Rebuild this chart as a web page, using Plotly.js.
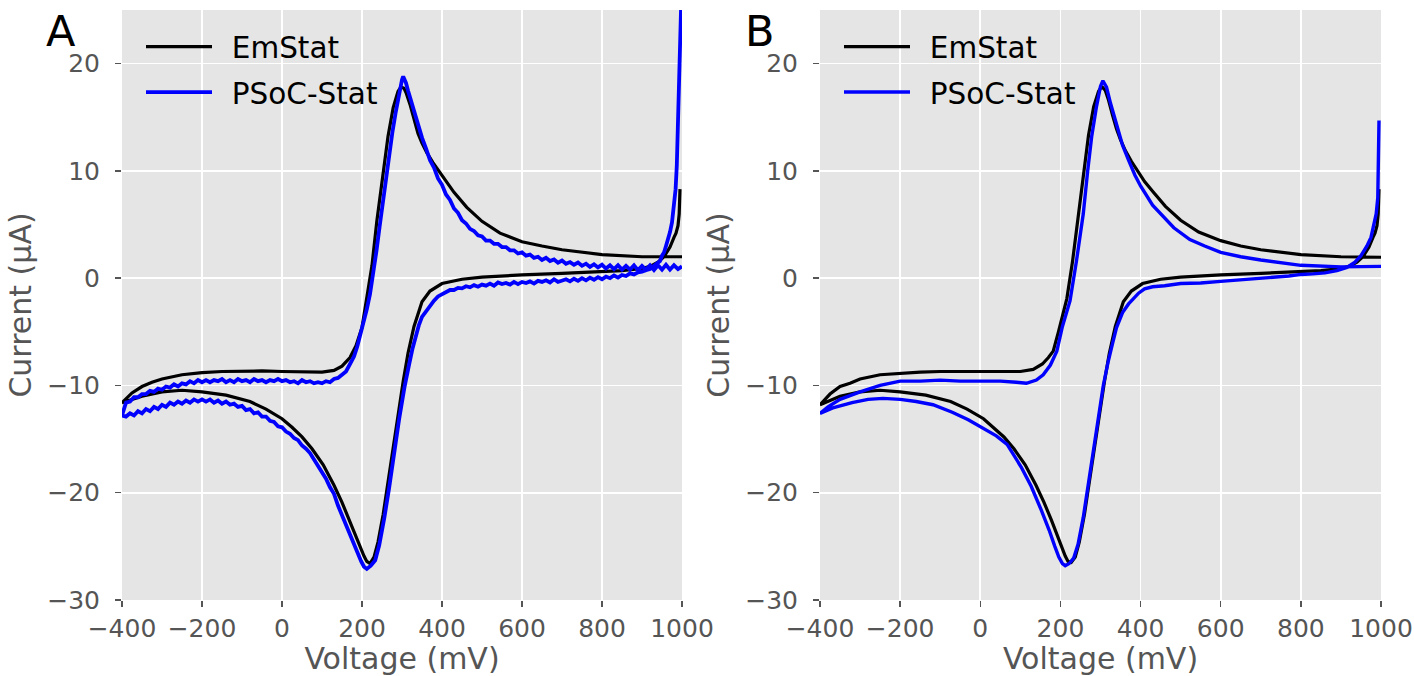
<!DOCTYPE html>
<html>
<head>
<meta charset="utf-8">
<script src="https://cdn.plot.ly/plotly-3.0.1.min.js"></script>
<style>html,body{margin:0;padding:0;background:#fff;}#chart{width:1414px;height:676px;}</style>
</head>
<body>
<div id="chart"></div>
<script>
// Each loop: start spike at the 1000 mV vertex -> reverse sweep to -400 mV -> forward sweep back to 1000 mV
// ---------- EmStat, panel A
const emstatAV = [995,993,990,985,980,970,955,940,920,900,850,800,700,600,500,450,400,370,350,330,315,303,290,278,265,253,240,230,220,212,205,195,185,170,150,130,103,75,50,25,0,-40,-80,-140,-200,-250,-300,-350,-400,
  -375,-350,-325,-300,-250,-200,-150,-100,-50,0,50,100,130,150,170,185,200,212,225,237,253,265,278,285,290,295,299,305,310,320,330,340,350,362,377,392,410,430,462,500,545,600,650,700,800,900,1000];
const emstatAI = [8.3,6.0,4.9,4.2,3.8,2.9,2.0,1.5,1.1,0.9,0.7,0.6,0.45,0.3,0.1,-0.1,-0.5,-1.2,-2.2,-4.5,-7.0,-9.6,-12.8,-16.0,-19.2,-22.0,-24.6,-26.0,-26.6,-26.4,-25.9,-25.0,-24.0,-22.6,-20.9,-19.3,-17.4,-15.9,-14.8,-13.9,-13.1,-12.2,-11.5,-10.9,-10.6,-10.45,-10.6,-11.0,-11.6,
  -10.7,-10.1,-9.7,-9.4,-9.0,-8.8,-8.7,-8.65,-8.65,-8.7,-8.75,-8.75,-8.6,-8.2,-7.4,-6.3,-4.6,-2.0,1.2,5.3,9.9,13.2,15.9,16.8,17.4,17.7,17.8,17.7,17.3,16.2,14.8,13.5,12.6,11.7,10.8,10.0,9.0,8.0,6.6,5.3,4.2,3.4,3.0,2.65,2.2,2.0,2.0];

// ---------- EmStat, panel B
const emstatBV = [995,993,990,985,980,970,955,940,920,900,850,800,700,600,500,450,405,377,357,337,322,310,297,285,272,260,247,237,227,219,212,203,193,178,159,139,112,84,59,33,8,-33,-74,-136,-200,-250,-300,-350,-400,
  -375,-350,-325,-300,-250,-200,-150,-100,-50,0,50,100,132,155,170,182,195,205,216,230,244,259,270,283,290,295,300,305,312,320,330,340,350,362,377,392,410,430,462,500,545,600,650,700,800,900,1000];
const emstatBI = [8.3,6.0,4.9,4.2,3.8,2.9,2.0,1.5,1.1,0.9,0.7,0.6,0.45,0.3,0.1,-0.1,-0.5,-1.2,-2.2,-4.5,-7.0,-9.6,-12.8,-16.0,-19.2,-22.0,-24.6,-26.0,-26.5,-26.4,-25.9,-25.0,-24.0,-22.6,-20.9,-19.3,-17.4,-15.9,-14.8,-13.9,-13.1,-12.2,-11.5,-10.9,-10.6,-10.45,-10.6,-11.0,-11.8,
  -10.8,-10.1,-9.8,-9.4,-9.0,-8.85,-8.75,-8.7,-8.7,-8.7,-8.7,-8.7,-8.5,-8.0,-7.4,-6.8,-5.0,-3.4,-1.9,1.5,5.6,10.0,13.3,16.0,16.9,17.4,17.7,17.8,17.5,16.6,15.2,13.9,12.9,11.9,10.9,10.0,9.0,8.1,6.7,5.4,4.3,3.5,3.0,2.65,2.2,2.0,1.95];

// ---------- PSoC-Stat, panel A (noisy recording)
const psocAV = [999,996,993,990,987,984,980,975,970,965,960,955,950,945,940,
  930,920,910,900,890,880,870,860,850,840,830,820,810,800,790,780,770,760,750,740,730,720,710,700,690,680,670,660,650,640,630,620,610,600,590,580,570,560,550,540,530,520,510,500,490,480,470,460,450,440,430,420,410,400,390,380,
  370,360,350,342,334,326,318,306,293,281,268,256,243,233,222,212,205,198,190,180,
  170,160,150,140,130,120,110,100,90,80,70,60,50,40,30,20,10,0,-10,-20,-30,-40,-50,-60,-70,-80,-90,-100,-110,-120,-130,-140,-150,-160,-170,-180,-190,-200,-210,-220,-230,-240,-250,-260,-270,-280,-290,-300,-310,-320,-330,-340,-350,-360,-370,-380,-390,-400,
  -390,-380,-370,-360,-350,-340,-330,-320,-310,-300,-290,-280,-270,-260,-250,-240,-230,-220,-210,-200,-190,-180,-170,-160,-150,-140,-130,-120,-110,-100,-90,-80,-70,-60,-50,-40,-30,-20,-10,0,10,20,30,40,50,60,70,80,90,100,110,120,130,140,150,160,170,
  180,188,196,204,212,220,228,236,244,252,260,268,276,284,290,296,300,303,306,310,315,320,325,330,340,350,360,370,380,390,400,410,420,430,440,450,460,470,480,490,500,510,520,530,540,550,560,570,580,590,600,610,620,630,640,650,660,670,680,690,700,710,720,730,740,750,760,770,780,790,800,810,820,830,840,850,860,870,880,890,900,910,920,930,940,950,960,970,980,990,1000];
const psocAI = [27,22,17.5,13.5,10.5,8.3,6.6,5.2,4.3,3.5,3.0,2.4,2.1,1.6,1.45,
  1.05,0.85,0.75,0.6,0.55,0.35,0.45,0.2,0.3,0.05,0.25,0.0,0.15,-0.1,0.1,-0.15,0.05,-0.2,0.0,-0.25,-0.05,-0.3,-0.1,-0.2,-0.35,-0.1,-0.4,-0.2,-0.35,-0.25,-0.5,-0.3,-0.45,-0.35,-0.55,-0.35,-0.6,-0.45,-0.55,-0.4,-0.7,-0.5,-0.7,-0.6,-0.8,-0.65,-0.85,-0.75,-0.95,-0.9,-1.1,-1.1,-1.3,-1.45,-1.7,-2.1,
  -2.6,-3.0,-3.6,-4.4,-5.4,-6.6,-8.0,-10.2,-13.1,-16.3,-19.5,-22.3,-24.9,-26.3,-26.8,-27.1,-26.9,-26.4,-25.7,-24.8,
  -23.9,-23.1,-22.0,-21.2,-20.1,-19.5,-18.7,-18.1,-17.4,-16.9,-16.3,-15.9,-15.6,-15.1,-14.9,-14.5,-14.3,-13.9,-13.8,-13.4,-13.3,-12.9,-12.9,-12.5,-12.6,-12.2,-12.3,-11.9,-12.0,-11.7,-11.8,-11.5,-11.7,-11.4,-11.6,-11.3,-11.5,-11.3,-11.5,-11.3,-11.6,-11.4,-11.7,-11.5,-11.8,-11.6,-12.0,-11.8,-12.2,-12.0,-12.4,-12.2,-12.6,-12.4,-12.8,-12.6,-12.9,-12.8,
  -11.6,-11.5,-11.1,-11.1,-10.8,-10.8,-10.5,-10.6,-10.3,-10.4,-10.1,-10.2,-9.9,-10.1,-9.8,-9.9,-9.6,-9.8,-9.5,-9.7,-9.5,-9.7,-9.5,-9.6,-9.4,-9.7,-9.5,-9.7,-9.4,-9.6,-9.5,-9.7,-9.4,-9.6,-9.5,-9.7,-9.5,-9.6,-9.4,-9.6,-9.5,-9.7,-9.6,-9.8,-9.5,-9.7,-9.6,-9.8,-9.7,-9.8,-9.6,-9.7,-9.4,-9.3,-9.0,-8.7,-8.0,
  -7.3,-6.4,-5.3,-4.1,-2.9,-1.5,0.3,2.5,4.8,7.1,9.3,11.5,13.6,15.4,16.7,17.9,18.5,18.8,18.6,18.2,17.5,16.9,16.2,15.6,14.2,13.1,12.1,11.0,10.3,9.3,8.7,7.8,7.3,6.5,6.1,5.4,5.1,4.6,4.4,4.0,3.9,3.5,3.5,3.2,3.2,2.9,2.9,2.6,2.6,2.3,2.4,2.1,2.2,1.9,2.0,1.7,1.9,1.6,1.75,1.45,1.65,1.35,1.5,1.25,1.45,1.15,1.35,1.05,1.3,1.0,1.25,0.9,1.2,0.85,1.2,0.8,1.15,0.8,1.2,0.75,1.15,0.8,1.2,0.75,1.2,0.8,1.25,0.8,1.2,0.85,1.1];

// ---------- PSoC-Stat, panel B (smoothed recording)
const psocBV = [995,994,992,988,982,975,965,950,935,915,890,860,830,800,770,740,700,650,600,550,500,460,430,410,395,380,370,355,340,330,319,307,294,282,269,257,244,233,222,212,205,196,186,172,152,127,102,67,40,7,-30,-70,-118,-160,-200,-243,-280,-320,-368,-400,
  -380,-350,-300,-250,-200,-150,-100,-50,0,50,90,115,140,157,175,191,205,215,224,240,257,268,278,290,300,306,315,325,340,355,370,386,400,430,483,523,560,600,650,700,800,900,1000];
const psocBI = [14.7,10.5,7.5,6.0,4.8,3.8,3.0,2.1,1.5,1.0,0.7,0.5,0.4,0.35,0.2,0.1,0.0,-0.2,-0.3,-0.45,-0.5,-0.7,-0.8,-1.0,-1.4,-2.0,-2.4,-3.2,-4.6,-6.1,-7.8,-10.0,-13.1,-16.3,-19.5,-22.3,-24.8,-26.1,-26.6,-26.8,-26.6,-26.0,-25.0,-23.5,-21.6,-19.4,-17.6,-15.5,-14.7,-14.0,-13.2,-12.5,-11.8,-11.5,-11.3,-11.2,-11.3,-11.6,-12.1,-12.6,
  -12.0,-11.3,-10.6,-10.0,-9.6,-9.6,-9.5,-9.6,-9.6,-9.6,-9.7,-9.8,-9.5,-9.0,-8.1,-6.8,-4.5,-3.1,-2.1,1.6,6.0,10.0,13.2,16.0,17.9,18.4,17.8,16.3,14.2,12.4,11.0,9.6,8.6,6.8,4.7,3.6,3.0,2.4,2.0,1.7,1.2,1.05,1.1];

const xTicks = [-400,-200,0,200,400,600,800,1000];
const yTicks = [-30,-20,-10,0,10,20];

const FONT = '"DejaVu Sans", "Liberation Sans", sans-serif';
const GREY = '#555555';

const traces = [
  {x: emstatAV, y: emstatAI, xaxis:'x', yaxis:'y', name:'\u2002EmStat', mode:'lines', line:{color:'#000000', width:3.2}, legend:'legend', legendgroup:'a1'},
  {x: psocAV, y: psocAI, xaxis:'x', yaxis:'y', name:'\u2002PSoC-Stat', mode:'lines', line:{color:'#0000ff', width:3.8}, legend:'legend', legendgroup:'a2'},
  {x: emstatBV, y: emstatBI, xaxis:'x2', yaxis:'y2', name:'\u2002EmStat', mode:'lines', line:{color:'#000000', width:3.2}, legend:'legend2', legendgroup:'b1'},
  {x: psocBV, y: psocBI, xaxis:'x2', yaxis:'y2', name:'\u2002PSoC-Stat', mode:'lines', line:{color:'#0000ff', width:3.4}, legend:'legend2', legendgroup:'b2'}
];

function xax(domain, anchor){
  return {domain: domain, anchor: anchor, range:[-400,1000], tickvals: xTicks, ticktext: xTicks.map(v => v < 0 ? '\u2212' + Math.abs(v) : String(v)),
    showgrid:true, gridcolor:'#ffffff', gridwidth:1.6, zeroline:false, showline:false,
    ticks:'outside', ticklen:6, tickwidth:1.5, tickcolor:GREY, ticklabelstandoff:0,
    tickfont:{family:FONT, size:25, color:GREY},
    title:{text:'Voltage (mV)', font:{family:FONT, size:30, color:GREY}, standoff:2}};
}
function yax(domain, anchor){
  return {domain: domain, anchor: anchor, range:[-30,25], tickvals: yTicks, ticktext: yTicks.map(v => v < 0 ? '\u2212' + Math.abs(v) : String(v)),
    showgrid:true, gridcolor:'#ffffff', gridwidth:1.6, zeroline:false, showline:false,
    ticks:'outside', ticklen:6, tickwidth:1.5, tickcolor:GREY, ticklabelstandoff:10,
    tickfont:{family:FONT, size:25, color:GREY},
    title:{text:'Current (\u03bcA)', font:{family:FONT, size:30, color:GREY}, standoff:6}};
}
const yDom = [76/676, 666/676];
function leg(x){
  return {x:x, y:1-21/676, xanchor:'left', yanchor:'top', xref:'paper', yref:'paper', bgcolor:'rgba(0,0,0,0)', borderwidth:0,
    font:{family:FONT, size:29.5, color:'#000000'}, itemwidth:66, tracegroupgap:4, traceorder:'grouped'};
}

const layout = {
  width:1414, height:676,
  margin:{l:0, r:0, t:0, b:0, autoexpand:false},
  paper_bgcolor:'#ffffff', plot_bgcolor:'#e5e5e5',
  showlegend:true,
  xaxis: xax([122/1414, 682/1414], 'y'),
  yaxis: yax(yDom, 'x'),
  xaxis2: xax([820/1414, 1381/1414], 'y2'),
  yaxis2: yax(yDom, 'x2'),
  legend: leg(141/1414),
  legend2: leg(839/1414),
  annotations: [
    {text:'A', xref:'paper', yref:'paper', x:61/1414, y:1-31/676, xanchor:'center', yanchor:'middle', showarrow:false, font:{family:FONT, size:43, color:'#000000'}},
    {text:'B', xref:'paper', yref:'paper', x:760/1414, y:1-31/676, xanchor:'center', yanchor:'middle', showarrow:false, font:{family:FONT, size:43, color:'#000000'}}
  ]
};

Plotly.newPlot('chart', traces, layout, {displayModeBar:false, staticPlot:true});
</script>
</body>
</html>
